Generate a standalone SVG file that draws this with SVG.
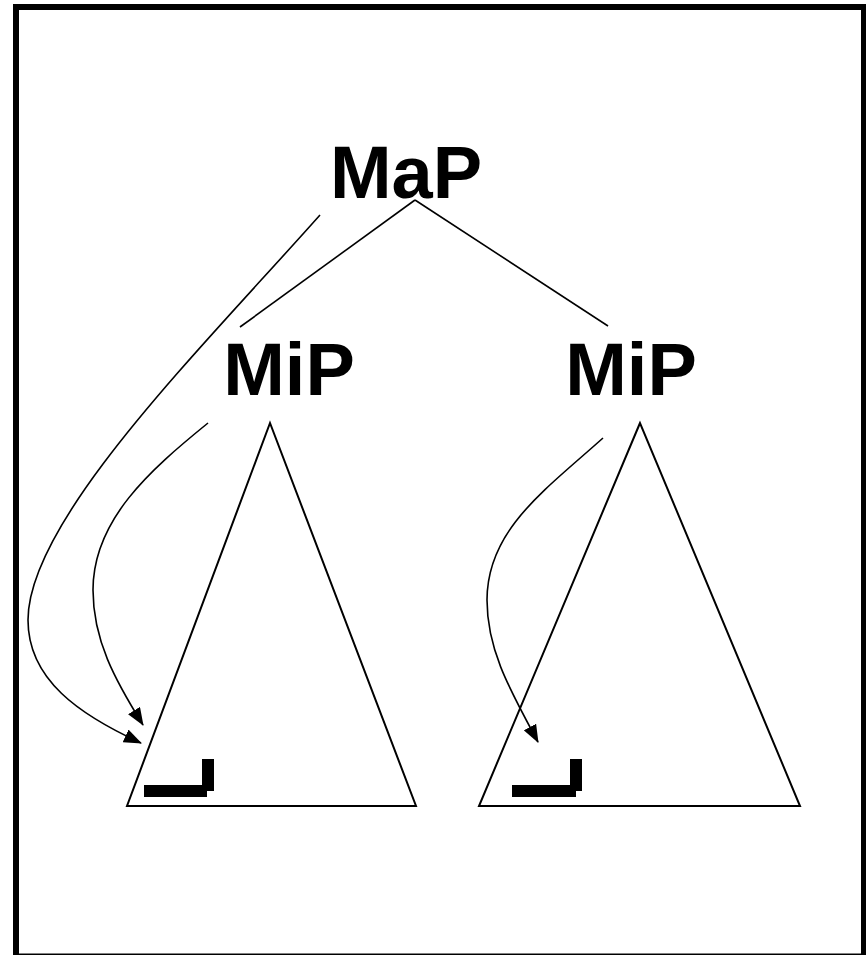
<svg xmlns="http://www.w3.org/2000/svg" width="866" height="955" viewBox="0 0 866 955">
<style>
.lbl{font-family:"Liberation Sans",Arial,sans-serif;font-weight:bold;font-size:74px;fill:#000;text-anchor:middle}
.edge{fill:none;stroke:#000;stroke-width:1.6}
.tri{fill:none;stroke:#000;stroke-width:2}
.mark{fill:#000}
</style>
<defs>
<marker id="arr" markerUnits="userSpaceOnUse" markerWidth="18" markerHeight="14" viewBox="0 0 18 14" refX="17" refY="7" orient="auto">
<path d="M0,0 L18,7 L0,14 Z" fill="#000"/>
</marker>
</defs>
<rect x="0" y="0" width="866" height="955" fill="#fff"/>
<rect x="16" y="7" width="848" height="949.5" fill="none" stroke="#000" stroke-width="6"/>
<g id="tri-left"><polygon class="tri" points="270,423 127,806 416,806"/>
<rect class="mark" x="144" y="785" width="63" height="12"/><rect class="mark" x="202" y="759" width="12" height="32"/></g>
<g id="tri-right"><polygon class="tri" points="640,423 479,806 800,806"/>
<rect class="mark" x="512" y="785" width="64" height="12"/><rect class="mark" x="570" y="759" width="12" height="32"/></g>
<g id="node-map"><text class="lbl" x="406" y="198">MaP</text></g>
<g id="node-mip-left"><text class="lbl" x="289" y="395">MiP</text></g>
<g id="node-mip-right"><text class="lbl" x="631" y="395">MiP</text></g>
<g id="connectors">
<path class="edge" d="M415,200 L240,327"/>
<path class="edge" d="M415,200 L608,326"/>
<path class="edge" marker-end="url(#arr)" d="M320,215 C200,350 28,520 28,620 C28,680 80,715 141,743"/>
<path class="edge" marker-end="url(#arr)" d="M208,423 C150,470 93,520 93,590 C93,640 115,680 143,725"/>
<path class="edge" marker-end="url(#arr)" d="M603,438 C545,490 487,530 487,600 C487,650 510,690 538,742"/>
</g>
</svg>
